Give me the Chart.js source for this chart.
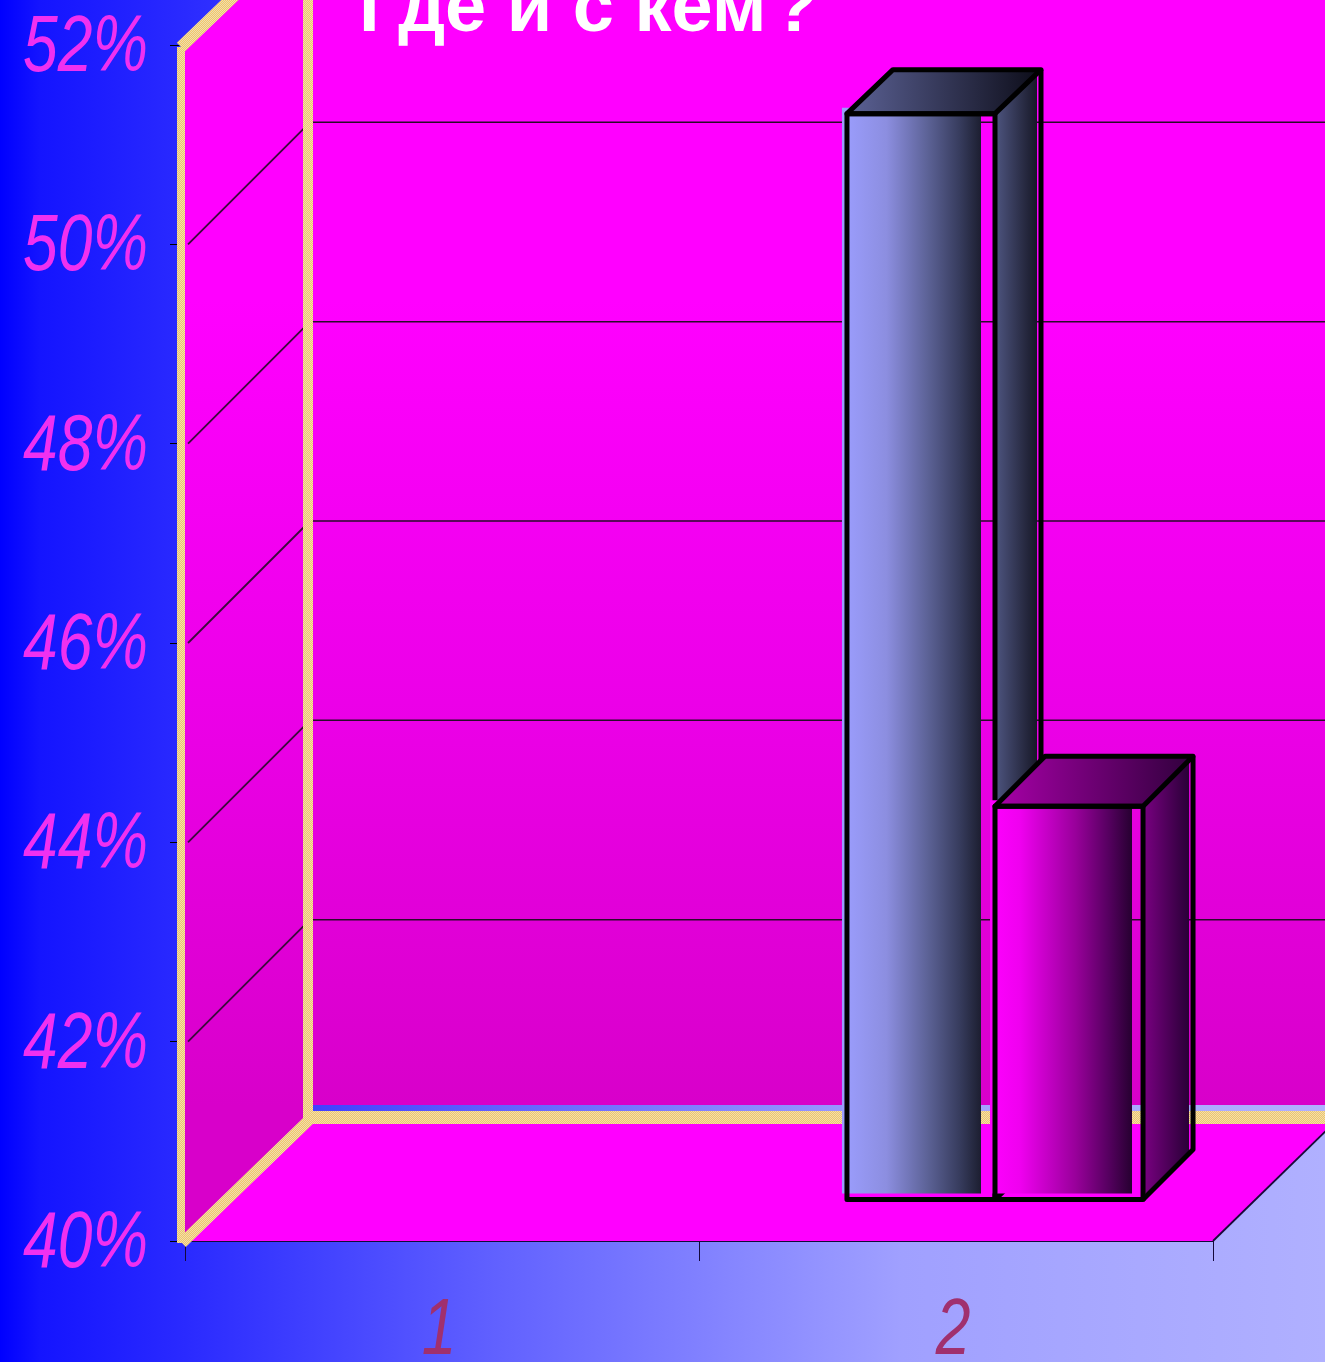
<!DOCTYPE html>
<html>
<head>
<meta charset="utf-8">
<title>Где и с кем ?</title>
<style>
  html, body { margin: 0; padding: 0; background: #2a2aff; overflow: hidden; }
  canvas { display: block; }
</style>
<script src="https://cdn.jsdelivr.net/npm/chart.js"></script>
</head>
<body>
<canvas id="chart" width="1325" height="1362"></canvas>
<script>
// values
const titleText = 'Где и с кем\u200A?';
const categories = ['1', '2'];
const seriesBlue = [null, 50.9];
const seriesPink = [null, 43.95];
const axisMin = 40;
const axisMax = 52;
const axisStep = 2;

// 3d look
const groupWidth = 0.576;
const wallDepth = { x: 125, y: -122 };
const barShift = { x: 39, y: -41 };
const fillShift = { x: -5, y: -6 };
const faces = [
  {
    front: [[0, '#9c9eff'], [0.3, '#8c8ee0'], [0.58, '#5c6296'], [0.8, '#363b5c'], [0.94, '#1c1e30']],
    fillEnd: 0.94,
    top: ['#5c6296', '#0c0c18'],
    side: ['#4e5580', '#12121f'],
    depth: { x: 46, y: -44 }
  },
  {
    front: [[0, '#ff00ff'], [0.2, '#f000f0'], [0.58, '#98009a'], [0.8, '#560060'], [0.96, '#260030']],
    fillEnd: 0.96,
    top: ['#a800a8', '#30003c'],
    side: ['#7a0082', '#220030'],
    depth: { x: 50, y: -50 }
  }
];

function frontGradient(context, index) {
  const chart = context.chart;
  if (!chart.chartArea) return 'transparent';
  const x = chart.scales.x;
  const w = chart.chartArea.width / categories.length * groupWidth / 2;
  const left = x.getPixelForValue(1) - w + index * w;
  if (!isFinite(left) || !isFinite(w)) return 'transparent';
  const g = chart.ctx.createLinearGradient(left, 0, left + w, 0);
  const f = faces[index];
  f.front.forEach(s => g.addColorStop(s[0], s[1]));
  g.addColorStop(Math.min(f.fillEnd + 0.001, 1), 'rgba(0,0,0,0)');
  g.addColorStop(1, 'rgba(0,0,0,0)');
  return g;
}

function poly(ctx, pts) {
  ctx.beginPath();
  pts.forEach((p, i) => i ? ctx.lineTo(p[0], p[1]) : ctx.moveTo(p[0], p[1]));
  ctx.closePath();
}

function drawLine(ctx, x1, y1, x2, y2, color, width) {
  ctx.strokeStyle = color;
  ctx.lineWidth = width;
  ctx.beginPath();
  ctx.moveTo(x1, y1);
  ctx.lineTo(x2, y2);
  ctx.stroke();
}

// the frame of the walls is a dithered gold
function goldPattern(ctx) {
  const c = document.createElement('canvas');
  c.width = 2;
  c.height = 2;
  const p = c.getContext('2d');
  p.fillStyle = '#f0c868';
  p.fillRect(0, 0, 2, 2);
  p.fillStyle = '#f0dcb0';
  p.fillRect(0, 0, 1, 1);
  p.fillRect(1, 1, 1, 1);
  return ctx.createPattern(c, 'repeat');
}

// tick labels are squeezed sideways, no narrow italic font is installed
function narrowText(ctx, text, x, y, align, color) {
  ctx.save();
  ctx.translate(x, y);
  ctx.scale(0.78, 1);
  ctx.font = 'italic 80px "Liberation Sans"';
  ctx.fillStyle = color;
  ctx.textAlign = align;
  ctx.textBaseline = 'alphabetic';
  ctx.fillText(text, 0, 0);
  ctx.restore();
}

function drawBar(chart, index) {
  const ctx = chart.ctx;
  const meta = chart.getDatasetMeta(index);
  const f = faces[index];
  const data = chart.data.datasets[index].data;

  ctx.save();
  ctx.translate(barShift.x + fillShift.x, barShift.y + fillShift.y);
  meta.controller.draw();
  ctx.restore();

  meta.data.forEach((el, i) => {
    if (data[i] === null) return;
    const x0 = el.x - el.width / 2 + barShift.x;
    const x1 = x0 + el.width;
    const y0 = el.y + barShift.y;
    const y1 = el.base + barShift.y;
    const d = f.depth;
    ctx.save();
    const topFill = ctx.createLinearGradient(x0, 0, x1 + d.x, 0);
    topFill.addColorStop(0, f.top[0]);
    topFill.addColorStop(1, f.top[1]);
    ctx.fillStyle = topFill;
    poly(ctx, [[x0, y0], [x1, y0], [x1 + d.x, y0 + d.y], [x0 + d.x, y0 + d.y]]);
    ctx.fill();

    const sideFill = ctx.createLinearGradient(x1, 0, x1 + d.x, 0);
    sideFill.addColorStop(0, f.side[0]);
    sideFill.addColorStop(1, f.side[1]);
    ctx.fillStyle = sideFill;
    poly(ctx, [[x1, y0], [x1 + d.x - 4, y0 + d.y + 4], [x1 + d.x - 4, y1 + d.y + 4], [x1, y1]]);
    ctx.fill();

    ctx.strokeStyle = '#000000';
    ctx.lineWidth = 5;
    ctx.lineJoin = 'round';
    ctx.strokeRect(x0, y0, el.width, y1 - y0);
    poly(ctx, [[x0, y0], [x0 + d.x, y0 + d.y], [x1 + d.x, y0 + d.y], [x1, y0]]);
    ctx.stroke();
    ctx.beginPath();
    ctx.moveTo(x1 + d.x, y0 + d.y);
    ctx.lineTo(x1 + d.x, y1 + d.y);
    ctx.lineTo(x1, y1);
    ctx.stroke();
    ctx.restore();
  });
}

const pagePlugin = {
  id: 'page',
  beforeDraw(chart) {
    const ctx = chart.ctx;
    const g = ctx.createLinearGradient(0, 0, chart.width, 0);
    g.addColorStop(0, '#0000ff');
    g.addColorStop(0.03, '#1414ff');
    g.addColorStop(0.14, '#2a2aff');
    g.addColorStop(0.38, '#6262ff');
    g.addColorStop(0.68, '#a0a0ff');
    g.addColorStop(1, '#b0b0ff');
    ctx.fillStyle = g;
    ctx.fillRect(0, 0, chart.width, chart.height);
  },
  beforeDatasetsDraw(chart) {
    const ctx = chart.ctx;
    const { left, right, top, bottom } = chart.chartArea;
    const y = chart.scales.y;
    const dx = wallDepth.x;
    const dy = wallDepth.y;
    ctx.save();

    const wall = ctx.createLinearGradient(0, 300, 0, 1105);
    wall.addColorStop(0, '#ff00ff');
    wall.addColorStop(0.5, '#ec00e8');
    wall.addColorStop(1, '#d800ca');

    // side wall, back wall, floor
    ctx.fillStyle = wall;
    poly(ctx, [[left, bottom], [left, top], [left + dx, top + dy], [left + dx, bottom + dy]]);
    ctx.fill();
    ctx.fillRect(left + dx, 0, chart.width - left - dx, bottom + dy - 14);
    ctx.fillStyle = '#ff00ff';
    poly(ctx, [[left, bottom], [right, bottom], [right + dx, bottom + dy], [left + dx, bottom + dy]]);
    ctx.fill();

    // gridlines on both walls
    y.ticks.forEach(t => {
      if (t.value === axisMin || t.value === axisMax) return;
      const py = y.getPixelForValue(t.value);
      drawLine(ctx, left + 3, py, left + dx - 4, py + dy + 4, '#3a0a3a', 1.8);
      drawLine(ctx, left + dx, py + dy, chart.width, py + dy, '#2a0a2a', 1.5);
    });

    // gold frame of the walls
    const gold = goldPattern(ctx);
    ctx.fillStyle = gold;
    ctx.fillRect(left - 8, top + 2, 8, bottom - top);
    ctx.fillRect(left + dx - 7, 0, 10, bottom + dy);
    ctx.fillRect(left + dx - 7, bottom + dy - 8, chart.width, 13);
    drawLine(ctx, left - 4, top + 2, left + dx, top + dy, gold, 12);
    drawLine(ctx, left - 3, bottom + 2, left + dx, bottom + dy, gold, 11);

    // right edge of the floor
    drawLine(ctx, right, bottom, right + dx, bottom + dy, '#1a0a3a', 1.8);
    ctx.restore();
  },
  // Chart.js paints the first series last, here the second one has to sit on top
  beforeDatasetDraw() {
    return false;
  },
  afterDatasetsDraw(chart) {
    drawBar(chart, 0);
    drawBar(chart, 1);
  },
  afterDraw(chart) {
    const ctx = chart.ctx;
    ctx.save();
    ctx.fillStyle = '#ffffff';
    ctx.font = 'bold 74px "Liberation Sans"';
    ctx.textAlign = 'left';
    ctx.textBaseline = 'alphabetic';
    ctx.fillText(titleText, 359, 31);
    ctx.restore();

    const { x, y } = chart.scales;
    y.ticks.forEach((t, i) => narrowText(ctx, t.label, 148, y.getPixelForTick(i) + 26, 'right', '#f030f0'));
    x.ticks.forEach((t, i) => narrowText(ctx, t.label, x.getPixelForTick(i) - 3, 1354, 'center', '#a0306e'));
  }
};

new Chart(document.getElementById('chart').getContext('2d'), {
  type: 'bar',
  data: {
    labels: categories,
    datasets: [
      { label: 'Ряд 1', data: seriesBlue, base: axisMin, backgroundColor: c => frontGradient(c, 0), clip: false },
      { label: 'Ряд 2', data: seriesPink, base: axisMin, backgroundColor: c => frontGradient(c, 1), clip: false }
    ]
  },
  options: {
    responsive: false,
    animation: false,
    events: [],
    layout: { padding: { top: 45, right: 112 } },
    datasets: { bar: { categoryPercentage: groupWidth, barPercentage: 1 } },
    plugins: { legend: { display: false }, tooltip: { enabled: false } },
    scales: {
      x: {
        afterFit(s) { s.height = 121; },
        border: { color: '#14083a', width: 2 },
        grid: { drawOnChartArea: false, drawTicks: true, tickLength: 20, color: '#14083a' },
        ticks: { display: false }
      },
      y: {
        min: axisMin,
        max: axisMax,
        afterFit(s) { s.width = 185; },
        border: { color: '#000000', width: 1.5 },
        grid: { drawOnChartArea: false, drawTicks: true, tickLength: 15, color: '#000000' },
        ticks: { display: false, stepSize: axisStep, callback: v => v + '%' }
      }
    }
  },
  plugins: [pagePlugin]
});
</script>
</body>
</html>
